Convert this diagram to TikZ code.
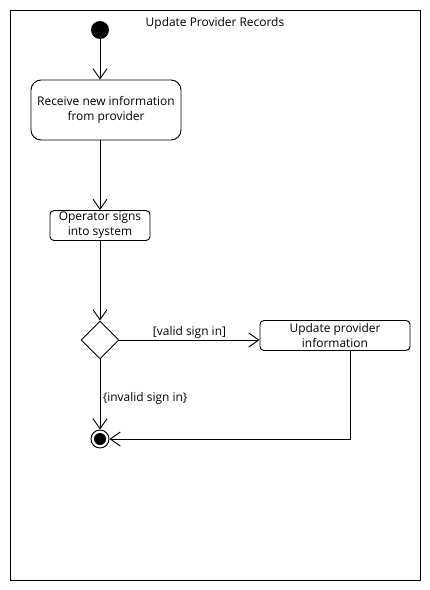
\documentclass[tikz,border=0pt]{standalone}
\usepackage{fontspec}
\setmainfont{Open Sans}
\usetikzlibrary{arrows.meta,shapes.geometric,positioning,calc}

\begin{document}
\begin{tikzpicture}[
    x=0.03cm, y=-0.03cm,
    every node/.style={font=\fontsize{10.2}{12.8}\selectfont},
    act/.style={draw, rounded corners=0.12cm, align=center, minimum width=4.5cm, minimum height=0.9cm, inner sep=1pt, line width=0.8pt},
    init/.style={circle, fill=black, minimum size=0.54cm, inner sep=0pt},
    fin/.style={circle, draw, line width=0.8pt, minimum size=0.54cm, inner sep=0pt},
    choice/.style={diamond, draw, line width=0.8pt, minimum width=1.14cm, minimum height=1.14cm, inner sep=0pt},
    arr/.style={-{Straight Barb[length=0.3cm, width=0.42cm]}, line width=0.8pt}
]
\useasboundingbox (0,0) rectangle (430,590);
\draw[line width=0.8pt] (10,10) rectangle (420,580);
\node (title) at (215,23.5) {Update Provider Records};

\node[init] (start) at (100,30) {};
\node[act, rounded corners=0.3cm, minimum height=1.8cm] (recv) at (106,110) {Receive new information\\from provider};
\node[act, minimum width=3cm] (oper) at (100,225.5) {Operator signs\\into system};
\node[choice] (dec) at (100,340) {};
\node[act] (upd) at (335,335.5) {Update provider\\information};
\node[fin] (end) at (100,439) {};
\fill (end) circle (0.18cm);

\draw[arr] (start) -- (start |- recv.north);
\draw[arr] (recv.south -| oper.north) -- (oper.north);
\draw[arr] (oper) -- (dec);
\draw[arr] (dec.east) -- node[above, inner sep=1pt] {[valid sign in]} (dec.east -| upd.west);
\draw[arr] (dec) -- node[right, pos=0.55, inner sep=2pt] {\{invalid sign in\}} (end);
\draw[arr] ([xshift=0.47cm]upd.south) |- (end);
\end{tikzpicture}
\end{document}
